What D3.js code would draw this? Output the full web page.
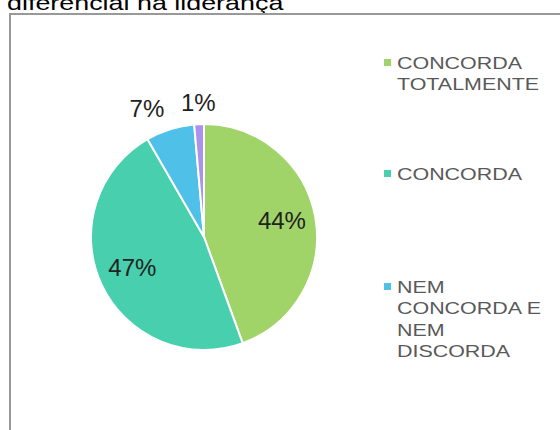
<!DOCTYPE html>
<html lang="pt">
<head>
	<meta charset="UTF-8">
	<title>diferencial na liderança</title>
	<style>
		html, body {width: 100%; height: 100%; padding: 0; margin: 0; background: #fff; overflow: hidden;}
		svg {display: block; font-family: "Liberation Sans", Arial, sans-serif;}
	</style>
	<script src="https://d3js.org/d3.v7.min.js"></script>
</head>
<body>
<script>
	// answers, counts and colours
	var categories = ['CONCORDA TOTALMENTE', 'CONCORDA', 'NEM CONCORDA E NEM DISCORDA', 'DISCORDA'];
	var counts = [32, 34, 5, 1];
	var colors = ['#a0d468', '#48cfad', '#4fc1e9', '#ac92ec'];
	// how each legend label wraps
	var legendLines = [['CONCORDA', 'TOTALMENTE'], ['CONCORDA'], ['NEM', 'CONCORDA E', 'NEM', 'DISCORDA'], ['DISCORDA']];

	var width = 560, height = 430;
	var cx = 204, cy = 237, r = 113;
	// text in the legend and title is drawn wider than normal
	var stretch = 1.34;

	var svg = d3.select('body').append('svg')
		.attr('width', width)
		.attr('height', height);

	// title, cut off at the top of the picture
	svg.append('text')
		.attr('transform', 'translate(7,10) scale(1.28,1)')
		.attr('font-size', 21)
		.attr('fill', '#000')
		.text('diferencial na liderança');

	// chart frame
	svg.append('rect')
		.attr('x', 10)
		.attr('y', 14)
		.attr('width', 600)
		.attr('height', 500)
		.attr('fill', 'none')
		.attr('stroke', '#999')
		.attr('stroke-width', 2);

	var total = d3.sum(counts);
	var color = d3.scaleOrdinal().domain(categories).range(colors);

	var pie = d3.pie().sort(null).value(function (d) { return d.value; });
	var arcs = pie(categories.map(function (c, i) { return {name: c, value: counts[i]}; }));

	var arc = d3.arc().innerRadius(0).outerRadius(r);
	var labelArc = d3.arc().innerRadius(r * 0.7).outerRadius(r * 0.7);
	var outerArc = d3.arc().innerRadius(r * 1.17).outerRadius(r * 1.17);

	var g = svg.append('g').attr('transform', 'translate(' + cx + ',' + cy + ')');

	g.selectAll('.slice')
		.data(arcs)
		.enter().append('path')
		.attr('class', 'slice')
		.attr('d', arc)
		.attr('fill', function (d) { return color(d.data.name); })
		.attr('stroke', '#fff')
		.attr('stroke-width', 2);

	function isBig(d) { return (d.endAngle - d.startAngle) > 0.5; }

	g.selectAll('.lbl')
		.data(arcs)
		.enter().append('text')
		.attr('class', 'lbl')
		.attr('transform', function (d) {
			var p = isBig(d) ? labelArc.centroid(d) : outerArc.centroid(d);
			return 'translate(' + p + ')';
		})
		.attr('dy', '0.25em')
		.attr('text-anchor', function (d) {
			if (isBig(d)) return 'middle';
			var x = outerArc.centroid(d)[0];
			if (Math.abs(x) < 15) return 'middle';
			return x < 0 ? 'end' : 'start';
		})
		.attr('font-size', 24)
		.attr('fill', '#222')
		.text(function (d) { return Math.round(d.data.value / total * 100) + '%'; });

	// legend (the last entry falls below the visible area)
	var legend = svg.append('g').attr('transform', 'translate(384,0)');
	var legendY = [59, 170, 283, 480];
	categories.forEach(function (c, i) {
		var item = legend.append('g').attr('transform', 'translate(0,' + legendY[i] + ')');
		item.append('rect')
			.attr('width', 7)
			.attr('height', 7)
			.attr('fill', color(c));
		var t = item.append('text')
			.attr('transform', 'translate(13,10) scale(' + stretch + ',1)')
			.attr('font-size', 16)
			.attr('fill', '#595959');
		legendLines[i].forEach(function (line, j) {
			t.append('tspan')
				.attr('x', 0)
				.attr('dy', j === 0 ? 0 : 21.5)
				.text(line);
		});
	});
</script>
</body>
</html>
